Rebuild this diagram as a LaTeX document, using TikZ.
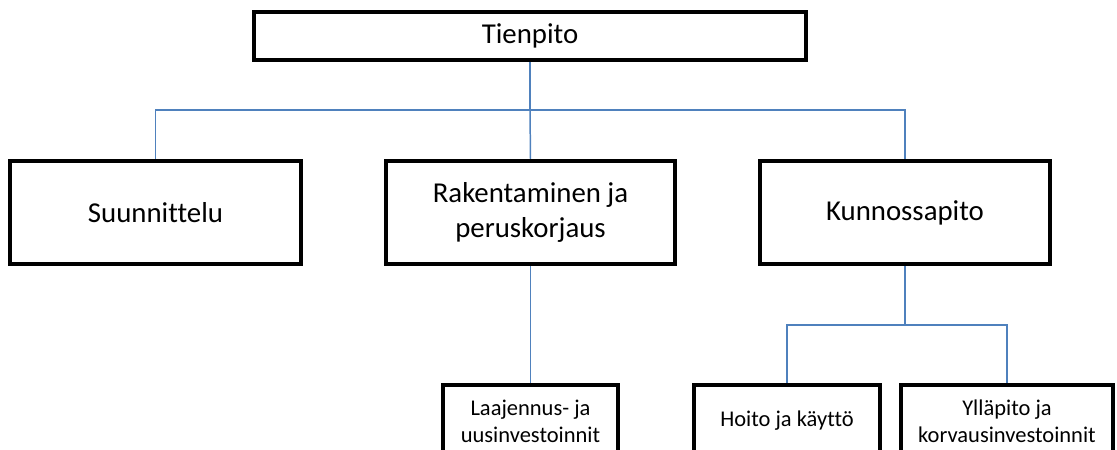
\documentclass[tikz,border=0pt]{standalone}
\usepackage{fontspec}
\setmainfont[Ligatures=NoCommon]{Carlito}
\definecolor{linkblue}{RGB}{79,129,189}
\tikzset{
  mainbox/.style={draw, line width=2.3pt, align=center, inner sep=0pt,
    font=\fontsize{16.4}{20}\selectfont},
  subbox/.style={draw, line width=2.3pt, align=center, inner sep=0pt,
    minimum height=1.44cm, font=\fontsize{12.8}{15.5}\selectfont},
  link/.style={draw=linkblue, line width=0.85pt}
}
\begin{document}
\begin{tikzpicture}[x=0.02cm, y=-0.02cm]
\useasboundingbox (0,0) rectangle (1117,450);
\clip (0,0) rectangle (1117,450);

\node [mainbox, minimum width=11.04cm, minimum height=0.96cm] (tie) at (530,36) {Tienpito};

\node [mainbox, minimum width=5.82cm, minimum height=2.06cm] (suu) at (155.5,212.5) {Suunnittelu};
\node [mainbox, minimum width=5.78cm, minimum height=2.06cm] (rak) at (530.5,212.5) {Rakentaminen ja\\peruskorjaus};
\node [mainbox, minimum width=5.80cm, minimum height=2.06cm] (kun) at (905,212.5) {Kunnossapito};

\node [subbox, minimum width=3.50cm] (laa) at (530.5,421) {Laajennus- ja\\uusinvestoinnit};
\node [subbox, minimum width=3.72cm] (hoi) at (787,421) {Hoito ja käyttö};
\node [subbox, minimum width=4.24cm] (yll) at (1007,421) {Ylläpito ja\\korvausinvestoinnit};

\coordinate (j1) at (530,110);
\coordinate (j2) at (905,325);

\draw [link] (tie.south) -- (j1);
\draw [link] (suu.north) |- (j1) -| (kun.north);
\draw [link] (j1) -- (rak.north);
\draw [link] (rak.south) -- (laa.north);
\draw [link] (kun.south) -- (j2);
\draw [link] (hoi.north) |- (j2) -| (yll.north);

\end{tikzpicture}
\end{document}
